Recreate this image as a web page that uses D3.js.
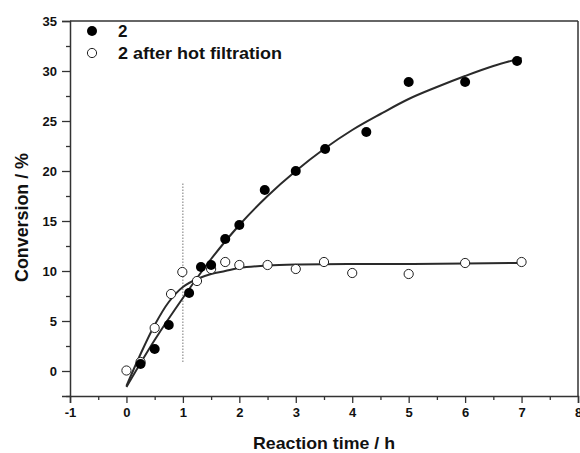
<!DOCTYPE html>
<html>
<head>
<meta charset="utf-8">
<script src="https://cdn.jsdelivr.net/npm/d3@7"></script>
<style>
  html, body { margin: 0; padding: 0; background: #fff; }
  svg { display: block; }
  text { font-family: "Liberation Sans", Arial, sans-serif; font-weight: bold; fill: #111; }
</style>
</head>
<body>
<script>
// ---- data ----
const xTicks = [-1, 0, 1, 2, 3, 4, 5, 6, 7, 8];
const yTicks = [0, 5, 10, 15, 20, 25, 30, 35];
const seriesNames = ["2", "2 after hot filtration"];

const filledX = [0.25, 0.5, 0.75, 1.11, 1.32, 1.5, 1.75, 2.0, 2.45, 3.0, 3.52, 4.25, 5.0, 6.0, 6.92];
const filledY = [0.7, 2.2, 4.6, 7.8, 10.4, 10.6, 13.2, 14.6, 18.1, 20.0, 22.2, 23.9, 28.9, 28.9, 31.0];

const openX = [0, 0.25, 0.5, 0.79, 0.99, 1.25, 1.5, 1.75, 2.0, 2.5, 3.0, 3.5, 4.0, 5.0, 6.0, 7.0];
const openY = [0.05, 0.9, 4.3, 7.7, 9.9, 9.0, 10.2, 10.9, 10.6, 10.6, 10.2, 10.9, 9.8, 9.7, 10.8, 10.9];

// fitted curves
const fitFilledX = [0, 0.5, 1.0, 1.5, 2.0, 2.5, 3.0, 3.5, 4.0, 4.5, 5.0, 5.5, 6.0, 6.5, 7.0];
const fitFilledY = [-1.6, 3.1, 7.3, 11.2, 14.6, 17.5, 20.0, 22.2, 24.1, 25.7, 27.2, 28.4, 29.5, 30.5, 31.3];
const fitOpenX = [0, 0.25, 0.5, 0.75, 1.0, 1.25, 1.5, 1.75, 2.0, 2.5, 3.0, 4.0, 5.0, 6.0, 7.0];
const fitOpenY = [-1.5, 1.7, 4.6, 6.9, 8.4, 9.2, 9.7, 10.0, 10.3, 10.55, 10.65, 10.7, 10.7, 10.75, 10.8];

// dotted marker line at hot filtration time
const filtrationX = [1, 1];
const filtrationY = [0.9, 18.8];

// ---- layout ----
const W = 580, H = 453;
const m = { left: 70, right: 2, top: 21, bottom: 57 };

const svg = d3.select("body").append("svg").attr("width", W).attr("height", H);
svg.append("rect").attr("width", W).attr("height", H).attr("fill", "#fff");

const x = d3.scaleLinear().domain([-1, 8]).range([m.left, W - m.right]);
const y = d3.scaleLinear().domain([-2.5, 35]).range([H - m.bottom, m.top]);

const axisColor = "#333";

// frame top/right
svg.append("line").attr("x1", x(-1)).attr("x2", x(8)).attr("y1", y(35)).attr("y2", y(35))
  .attr("stroke", axisColor).attr("stroke-width", 1.5);
svg.append("line").attr("x1", x(8)).attr("x2", x(8)).attr("y1", y(35)).attr("y2", y(-2.5))
  .attr("stroke", axisColor).attr("stroke-width", 1.5);

const fmt = d => String(d);

// x axis
const xAxis = d3.axisBottom(x).tickValues(xTicks).tickSize(7).tickPadding(5).tickFormat(fmt);
svg.append("g").attr("transform", `translate(0,${y(-2.5)})`).call(xAxis);
const xMinor = d3.axisBottom(x).tickValues(d3.range(-0.5, 8, 1)).tickSize(4).tickFormat("");
svg.append("g").attr("transform", `translate(0,${y(-2.5)})`).call(xMinor).select(".domain").remove();

// y axis
const yAxis = d3.axisLeft(y).tickValues(yTicks).tickSize(8).tickPadding(5).tickFormat(fmt);
svg.append("g").attr("transform", `translate(${x(-1)},0)`).call(yAxis);
const yMinor = d3.axisLeft(y).tickValues([-2.5, 2.5, 7.5, 12.5, 17.5, 22.5, 27.5, 32.5]).tickSize(4).tickFormat("");
svg.append("g").attr("transform", `translate(${x(-1)},0)`).call(yMinor).select(".domain").remove();

svg.selectAll(".domain").attr("stroke", axisColor).attr("stroke-width", 1.5);
svg.selectAll(".tick line").attr("stroke", axisColor).attr("stroke-width", 1.3);
svg.selectAll(".tick text").style("font-size", "13px").style("font-weight", "bold")
  .style("font-family", "'Liberation Sans', Arial, sans-serif").attr("fill", "#111");

// axis titles
svg.append("text").attr("x", (x(-1) + x(8)) / 2).attr("y", 449).attr("text-anchor", "middle")
  .attr("textLength", 142).attr("lengthAdjust", "spacingAndGlyphs")
  .style("font-size", "17px").text("Reaction time / h");
svg.append("text").attr("transform", `translate(28,217.5) rotate(-90)`)
  .attr("text-anchor", "middle")
  .attr("textLength", 129).attr("lengthAdjust", "spacingAndGlyphs")
  .style("font-size", "17.5px").text("Conversion / %");

// dotted line
svg.append("line")
  .attr("x1", x(filtrationX[0])).attr("x2", x(filtrationX[1]))
  .attr("y1", y(filtrationY[0])).attr("y2", y(filtrationY[1]))
  .attr("stroke", "#777").attr("stroke-width", 1).attr("stroke-dasharray", "1.5,1.5");

// fit curves
const line = d3.line().x(d => x(d[0])).y(d => y(d[1])).curve(d3.curveCatmullRom.alpha(0.5));
const fitF = fitFilledX.map((v, i) => [v, fitFilledY[i]]);
const fitO = fitOpenX.map((v, i) => [v, fitOpenY[i]]);
[fitF, fitO].forEach(pts => {
  svg.append("path").attr("d", line(pts)).attr("fill", "none")
    .attr("stroke", "#2a2a2a").attr("stroke-width", 2);
});

// points
const fPts = filledX.map((v, i) => [v, filledY[i]]);
const oPts = openX.map((v, i) => [v, openY[i]]);
svg.append("g").selectAll("circle").data(oPts).join("circle")
  .attr("cx", d => x(d[0])).attr("cy", d => y(d[1])).attr("r", 4.6)
  .attr("fill", "#fff").attr("stroke", "#222").attr("stroke-width", 1);
svg.append("g").selectAll("circle").data(fPts).join("circle")
  .attr("cx", d => x(d[0])).attr("cy", d => y(d[1])).attr("r", 5)
  .attr("fill", "#000");

// legend
const lg = svg.append("g");
lg.append("circle").attr("cx", 92).attr("cy", 31).attr("r", 5).attr("fill", "#000");
lg.append("circle").attr("cx", 92).attr("cy", 53).attr("r", 4.6).attr("fill", "#fff")
  .attr("stroke", "#222").attr("stroke-width", 1);
lg.append("text").attr("x", 118).attr("y", 37).style("font-size", "17px").text(seriesNames[0]);
lg.append("text").attr("x", 118).attr("y", 59).style("font-size", "17px")
  .attr("textLength", 164).attr("lengthAdjust", "spacingAndGlyphs").text(seriesNames[1]);
</script>
</body>
</html>
